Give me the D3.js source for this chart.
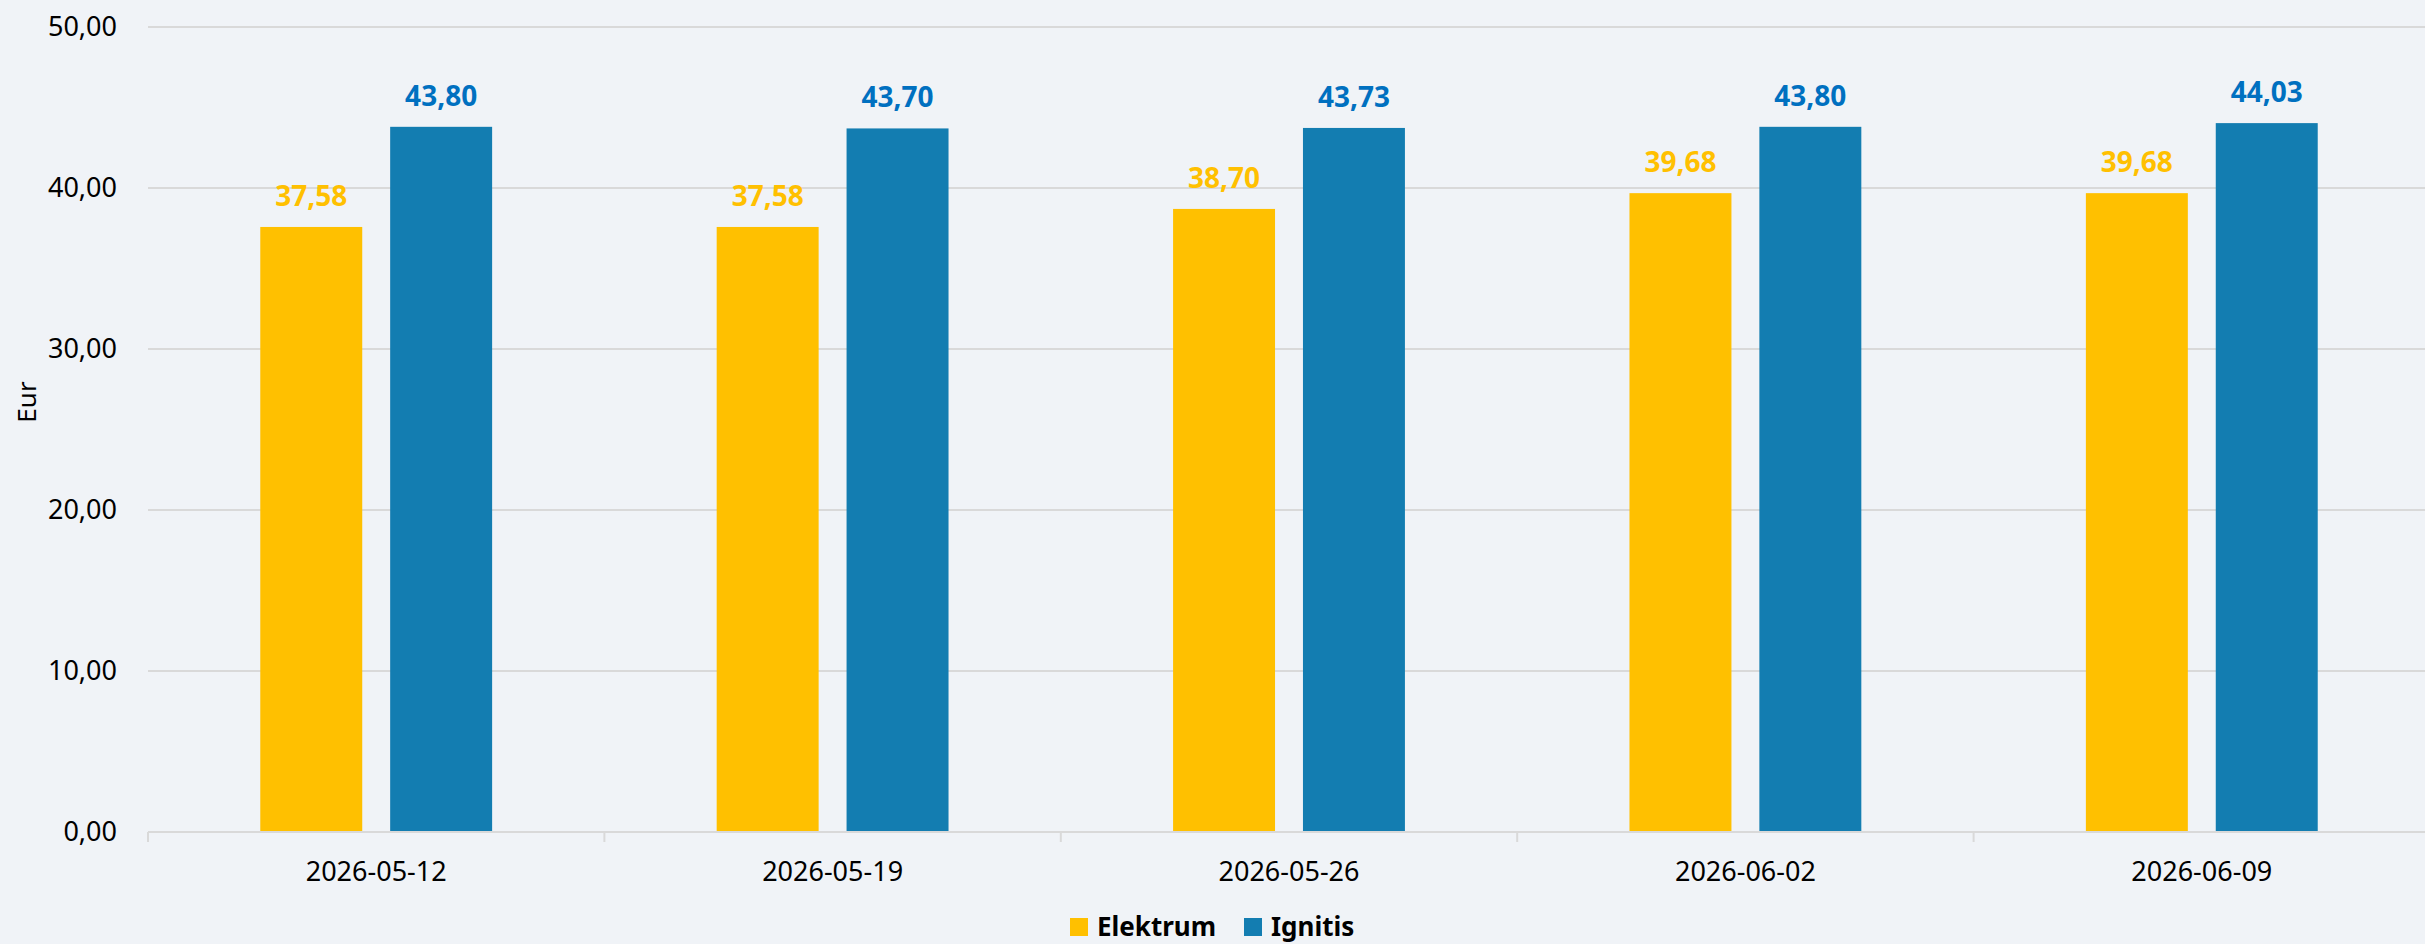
<!DOCTYPE html>
<html>
  <head>
    <title>Elektrum vs Ignitis</title>
    <script src="https://d3js.org/d3.v7.min.js"></script>
    <style>
      body {
        margin: 0;
        background: #F0F3F7;
        font-family: "Noto Sans", sans-serif;
      }
      svg { display: block; }
    </style>
  </head>
  <body>
    <script>
      const categories = ['2026-05-12', '2026-05-19', '2026-05-26', '2026-06-02', '2026-06-09'];
      const seriesNames = ['Elektrum', 'Ignitis'];
      const elektrum = [37.58, 37.58, 38.70, 39.68, 39.68];
      const ignitis = [43.80, 43.70, 43.73, 43.80, 44.03];
      const yTicks = [0, 10, 20, 30, 40, 50];

      const colors = { Elektrum: '#FFC000', Ignitis: '#137DB1' };
      const labelColors = { Elektrum: '#FFC000', Ignitis: '#0070C0' };

      const w = 2425;
      const h = 944;
      const plotLeft = 148;
      const plotRight = 2430;
      const plotTop = 27;
      const plotBottom = 832;

      const locale = d3.formatLocale({ decimal: ',', thousands: ' ', grouping: [3], currency: ['', ' €'] });
      const fmt = locale.format('.2f');

      const rows = categories.map((c, i) => ({ cat: c, Elektrum: elektrum[i], Ignitis: ignitis[i] }));

      const x0 = d3.scaleBand()
                   .domain(categories)
                   .range([plotLeft, plotRight])
                   .paddingInner(0.492)
                   .paddingOuter(0.246);

      const x1 = d3.scaleBand()
                   .domain(seriesNames)
                   .range([0, x0.bandwidth()])
                   .paddingInner(0.215);

      const y = d3.scaleLinear()
                  .domain([0, 50])
                  .range([plotBottom, plotTop]);

      const svg = d3.select('body')
                    .append('svg')
                    .attr('width', w)
                    .attr('height', h);

      // gridlines
      svg.append('g')
         .selectAll('line')
         .data(yTicks.filter(d => d > 0))
         .enter()
         .append('line')
         .attr('x1', plotLeft)
         .attr('x2', w)
         .attr('y1', d => y(d))
         .attr('y2', d => y(d))
         .attr('stroke', '#D9D9D9')
         .attr('stroke-width', 2);

      // y axis labels
      const yAxis = d3.axisLeft(y)
                      .tickValues(yTicks)
                      .tickFormat(fmt)
                      .tickSize(0)
                      .tickPadding(31);

      const gy = svg.append('g')
                    .attr('transform', `translate(${plotLeft}, 0)`)
                    .call(yAxis);
      gy.select('.domain').remove();
      gy.selectAll('text')
        .attr('font-family', '"Noto Sans", sans-serif')
        .attr('font-size', 27)
        .attr('fill', '#000');

      // bars
      const groups = svg.append('g')
                        .selectAll('g')
                        .data(rows)
                        .enter()
                        .append('g')
                        .attr('transform', d => `translate(${x0(d.cat)}, 0)`);

      groups.selectAll('rect')
            .data(d => seriesNames.map(s => ({ s: s, v: d[s] })))
            .enter()
            .append('rect')
            .attr('x', d => x1(d.s))
            .attr('y', d => y(d.v))
            .attr('width', x1.bandwidth())
            .attr('height', d => y(0) - y(d.v))
            .attr('fill', d => colors[d.s]);

      groups.selectAll('text')
            .data(d => seriesNames.map(s => ({ s: s, v: d[s] })))
            .enter()
            .append('text')
            .attr('x', d => x1(d.s) + x1.bandwidth() / 2)
            .attr('y', d => y(d.v) - 21)
            .attr('text-anchor', 'middle')
            .attr('font-size', 28)
            .attr('font-weight', 'bold')
            .attr('fill', d => labelColors[d.s])
            .text(d => fmt(d.v));

      // x axis
      const xAxis = d3.axisBottom(x0).tickSize(0).tickPadding(30);
      const gx = svg.append('g')
                    .attr('transform', `translate(0, ${plotBottom})`)
                    .call(xAxis);
      gx.select('.domain').attr('stroke', '#D9D9D9').attr('stroke-width', 2)
        .attr('d', `M${plotLeft},0H${w}`);
      gx.selectAll('text')
        .attr('font-family', '"Noto Sans", sans-serif')
        .attr('font-size', 27)
        .attr('fill', '#000');

      // boundary ticks
      const step = x0.step();
      gx.append('g')
        .selectAll('line')
        .data(categories.map((c, i) => plotLeft + i * step))
        .enter()
        .append('line')
        .attr('x1', d => d)
        .attr('x2', d => d)
        .attr('y1', 0)
        .attr('y2', 10)
        .attr('stroke', '#D9D9D9')
        .attr('stroke-width', 2);

      // y title
      svg.append('text')
         .attr('transform', 'translate(36, 402) rotate(-90)')
         .attr('text-anchor', 'middle')
         .attr('font-size', 26)
         .attr('fill', '#000')
         .text('Eur');

      // legend
      const legend = svg.append('g')
                        .attr('transform', 'translate(1070, 918)');
      const legendX = [0, 174];
      seriesNames.forEach((s, i) => {
        const g = legend.append('g').attr('transform', `translate(${legendX[i]}, 0)`);
        g.append('rect')
         .attr('width', 18)
         .attr('height', 18)
         .attr('fill', colors[s]);
        g.append('text')
         .attr('x', 27)
         .attr('y', 18)
         .attr('font-size', 26)
         .attr('font-weight', 'bold')
         .attr('fill', '#000')
         .text(s);
      });
    </script>
  </body>
</html>
